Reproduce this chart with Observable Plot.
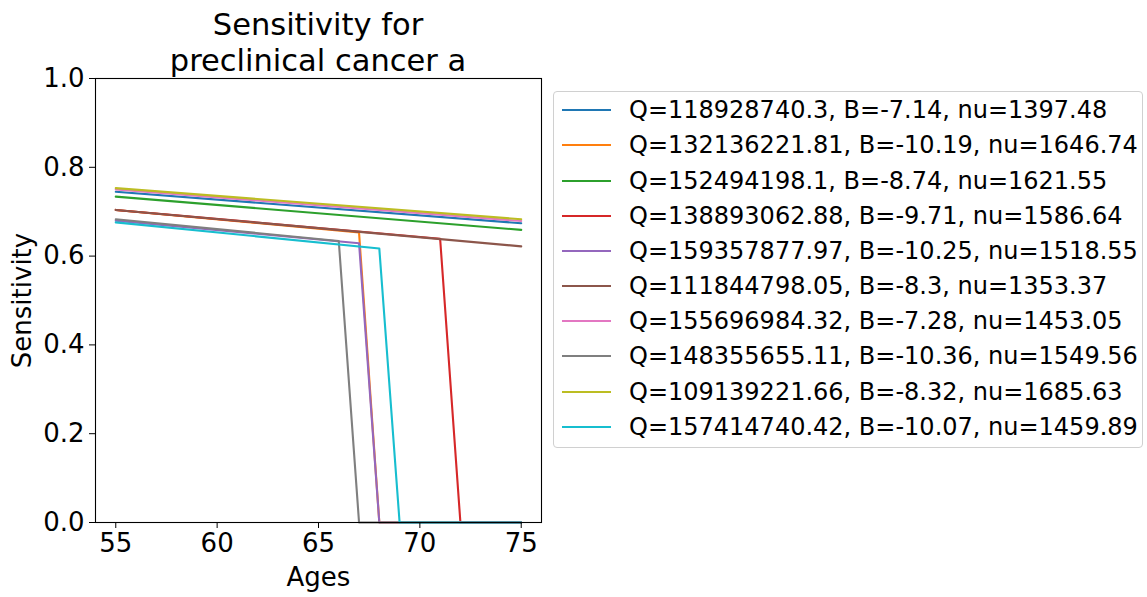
<!DOCTYPE html>
<html><head><meta charset="utf-8">
<script src="https://cdn.jsdelivr.net/npm/d3@7"></script>
<script src="https://cdn.jsdelivr.net/npm/@observablehq/plot@0.6"></script>
<style>
body{margin:0;background:#fff;font-family:"DejaVu Sans";}
#fig{position:relative;width:1147px;height:597px;overflow:hidden;background:#fff;}
.tl{position:absolute;left:0;width:636px;height:35.5px;text-align:center;font-size:30.5px;line-height:35.5px;color:#000;white-space:nowrap;}
#chart{position:absolute;left:0;top:0;}
#legend{position:absolute;left:553px;top:91px;width:588px;height:355px;border:1px solid #d0d0d0;border-radius:4px;background:#fff;}
.row{position:absolute;left:0;height:35.16px;display:flex;align-items:center;font-size:24px;white-space:nowrap;color:#000;}
.sw{width:49px;height:2px;margin-left:8px;margin-right:18px;flex:none;}
</style></head>
<body>
<div id="fig">
  <div id="chart"></div>
  <div class="tl" style="top:7px">Sensitivity for</div>
  <div class="tl" style="top:42.5px">preclinical cancer a</div>
  <div id="legend"></div>
</div>
<script>
const seriesLabels = [
  "Q=118928740.3, B=-7.14, nu=1397.48",
  "Q=132136221.81, B=-10.19, nu=1646.74",
  "Q=152494198.1, B=-8.74, nu=1621.55",
  "Q=138893062.88, B=-9.71, nu=1586.64",
  "Q=159357877.97, B=-10.25, nu=1518.55",
  "Q=111844798.05, B=-8.3, nu=1353.37",
  "Q=155696984.32, B=-7.28, nu=1453.05",
  "Q=148355655.11, B=-10.36, nu=1549.56",
  "Q=109139221.66, B=-8.32, nu=1685.63",
  "Q=157414740.42, B=-10.07, nu=1459.89"
];
const seriesColors = ["#1f77b4","#ff7f0e","#2ca02c","#d62728","#9467bd","#8c564b","#e377c2","#7f7f7f","#bcbd22","#17becf"];
const seriesAges = [
  [55, 75],
  [55, 67, 68, 75],
  [55, 75],
  [55, 71, 72, 75],
  [55, 67, 68, 75],
  [55, 75],
  [55, 75],
  [55, 66, 67, 75],
  [55, 75],
  [55, 68, 69, 75]
];
const seriesValues = [
  [0.745, 0.674],
  [0.704, 0.653, 0, 0],
  [0.734, 0.659],
  [0.704, 0.639, 0, 0],
  [0.680, 0.629, 0, 0],
  [0.704, 0.622],
  [0.750, 0.679],
  [0.683, 0.634, 0, 0],
  [0.753, 0.683],
  [0.676, 0.617, 0, 0]
];
const xTicks = [55, 60, 65, 70, 75];
const yTicks = [0, 0.2, 0.4, 0.6, 0.8, 1.0];

const lineMarks = seriesAges.map((ages, i) =>
  Plot.line(ages.map((a, j) => ({age: a, value: seriesValues[i][j]})),
    {x: "age", y: "value", stroke: seriesColors[i], strokeWidth: 2.1})
);

const chart = Plot.plot({
  width: 560, height: 597,
  marginLeft: 95, marginRight: 19, marginTop: 78, marginBottom: 75,
  x: {domain: [54, 76]},
  y: {domain: [0, 1]},
  style: {fontFamily: "DejaVu Sans", fontSize: "26px", color: "#000", background: "transparent", overflow: "visible"},
  marks: [
    ...lineMarks,
    Plot.frame({stroke: "#000", strokeWidth: 1.1}),
    Plot.axisX({ticks: xTicks, tickSize: 6, tickPadding: 5, fontSize: 26, label: null, tickFormat: d => String(d), stroke: "#000"}),
    Plot.axisY({ticks: yTicks, tickSize: 6, tickPadding: 5, fontSize: 26, label: null, tickFormat: d3.format(".1f"), stroke: "#000"}),
    Plot.text(["Ages"], {text: d => d, frameAnchor: "bottom", textAnchor: "middle", dy: 55, fontSize: 26, lineAnchor: "middle", fill: "#000"}),
    Plot.text(["Sensitivity"], {text: d => d, frameAnchor: "left", textAnchor: "middle", dx: -73, rotate: -90, fontSize: 26, fill: "#000"})
  ]
});
document.getElementById("chart").appendChild(chart);

const legend = document.getElementById("legend");
seriesLabels.forEach((lab, i) => {
  const row = document.createElement("div");
  row.className = "row";
  row.style.top = (0.7 + i * 35.16) + "px";
  const sw = document.createElement("div");
  sw.className = "sw";
  sw.style.background = seriesColors[i];
  const t = document.createElement("span");
  t.textContent = lab;
  row.appendChild(sw);
  row.appendChild(t);
  legend.appendChild(row);
});
</script>
</body></html>
